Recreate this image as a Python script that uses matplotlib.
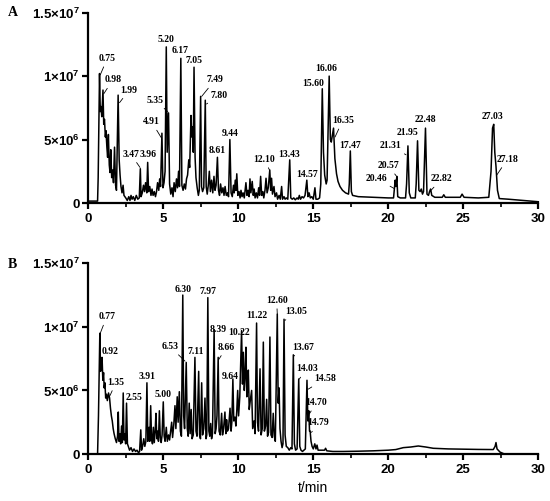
import matplotlib
matplotlib.use("Agg")
import matplotlib.pyplot as plt
from matplotlib.ticker import FixedLocator, MultipleLocator, FuncFormatter

# === Trace A (t in min, signal in 1e6 counts) ===
ta = [0, 0.62, 0.66, 0.75, 0.80, 0.85, 0.90, 0.98, 1.03, 1.08, 1.14, 1.18, 1.24, 1.29, 1.34, 1.40,
      1.45, 1.50, 1.56, 1.62, 1.68, 1.75, 1.82, 1.88, 1.99, 2.06, 2.12, 2.18, 2.25, 2.32, 2.38, 2.50,
      2.60, 2.70, 2.78, 2.85, 2.92, 3.00, 3.10, 3.20, 3.30, 3.40, 3.47, 3.52, 3.60, 3.68, 3.75, 3.82,
      3.90, 3.96, 4.02, 4.10, 4.18, 4.25, 4.32, 4.40, 4.48, 4.55, 4.62, 4.70, 4.76, 4.82, 4.91, 4.98,
      5.05, 5.12, 5.20, 5.26, 5.35, 5.42, 5.50, 5.58, 5.65, 5.72, 5.80, 5.88, 5.95, 6.02, 6.08, 6.17,
      6.24, 6.32, 6.40, 6.48, 6.55, 6.62, 6.70, 6.76, 6.85, 6.90, 6.95, 7.00, 7.05, 7.12, 7.18, 7.26,
      7.34, 7.40, 7.49, 7.55, 7.62, 7.70, 7.80, 7.86, 7.93, 8.00, 8.07, 8.14, 8.22, 8.30, 8.38, 8.45,
      8.52, 8.61, 8.68, 8.75, 8.82, 8.90, 8.98, 9.05, 9.12, 9.20, 9.28, 9.35, 9.44, 9.52, 9.60, 9.68,
      9.73, 9.80, 9.85, 9.90, 9.97, 10.05, 10.12, 10.18, 10.25, 10.32, 10.40, 10.51, 10.58, 10.65,
      10.72, 10.78, 10.84, 10.93, 11.00, 11.06, 11.12, 11.20, 11.28, 11.36, 11.42, 11.49, 11.56,
      11.64, 11.70, 11.78, 11.85, 11.92, 12.00, 12.10, 12.16, 12.22, 12.28, 12.38, 12.45, 12.55,
      12.62, 12.72, 12.80, 12.89, 12.95, 13.05, 13.12, 13.20, 13.30, 13.43, 13.50, 13.60, 13.70,
      13.80, 13.92, 14.00, 14.07, 14.15, 14.25, 14.35, 14.45, 14.57, 14.64, 14.72, 14.80, 14.90,
      15.00, 15.11, 15.18, 15.30, 15.42, 15.50, 15.60, 15.68, 15.76, 15.86, 15.92, 16.06, 16.14,
      16.20, 16.35, 16.44, 16.55, 16.65, 16.78, 16.95, 17.15, 17.35, 17.40, 17.47, 17.54, 17.62,
      18.0, 19.0, 20.0, 20.35, 20.40, 20.46, 20.51, 20.57, 20.63, 20.8, 21.15, 21.22, 21.31, 21.40,
      21.50, 21.80, 21.86, 21.95, 22.04, 22.12, 22.20, 22.28, 22.35, 22.48, 22.58, 22.68, 22.75,
      22.82, 22.90, 23.1, 23.6, 23.7, 23.8, 24.8, 24.92, 25.05, 26.0, 26.7, 26.85, 26.95, 27.03,
      27.10, 27.18, 27.28, 27.40, 28.0, 29.0, 30.0]
ya = [0.15, 0.15, 2.0, 10.2, 7.2, 7.6, 6.8, 8.9, 6.2, 6.6, 5.2, 5.7, 4.4, 3.6, 5.4, 3.0,
      2.4, 4.2, 2.0, 2.6, 1.6, 4.4, 1.4, 1.0, 8.5, 3.4, 2.2, 1.3, 0.8, 1.4, 0.6, 0.4,
      0.2, 0.5, 0.2, 0.6, 0.3, 0.5, 0.2, 0.6, 0.3, 0.4, 2.7, 0.5, 0.8, 1.4, 0.9, 1.6,
      0.8, 3.2, 0.9, 1.3, 0.6, 1.1, 0.6, 0.9, 0.5, 0.9, 1.6, 1.0, 1.9, 1.3, 5.5, 1.2,
      1.6, 2.5, 12.3, 4.0, 7.1, 1.5, 0.7, 1.2, 0.5, 1.6, 0.9, 1.9, 1.2, 2.5, 1.3, 11.4,
      1.4, 1.0, 1.5, 1.1, 1.9, 2.2, 3.4, 2.8, 6.9, 5.2, 6.0, 4.0, 10.7, 3.6, 2.0, 1.2,
      0.6, 1.0, 8.4, 1.3, 0.9, 1.2, 8.1, 1.3, 0.7, 1.4, 2.5, 0.9, 1.8, 0.8, 2.1, 1.0,
      1.4, 3.6, 1.0, 0.6, 1.5, 0.8, 1.2, 0.6, 1.3, 0.6, 0.8, 0.5, 5.0, 0.8, 0.5, 1.4,
      0.8, 1.8, 1.0, 2.3, 0.6, 0.9, 0.4, 1.0, 0.5, 0.8, 0.4, 1.6, 0.6, 1.0,
      0.5, 1.9, 0.8, 1.7, 0.6, 1.1, 0.4, 0.8, 0.4, 1.2, 0.6, 2.1, 0.6,
      0.9, 0.4, 1.0, 1.95, 0.8, 1.2, 2.6, 1.0, 1.95, 0.7, 1.3, 0.5, 0.8,
      0.3, 0.6, 0.3, 1.3, 0.3, 0.5, 0.3, 0.4, 0.3, 3.4, 0.4, 0.3, 0.4,
      0.25, 0.4, 0.3, 0.6, 0.3, 0.5, 0.4, 0.6, 1.8, 0.5, 0.8, 0.4, 0.5,
      0.3, 1.2, 0.3, 0.3, 0.4, 1.5, 9.0, 4.0, 2.2, 1.5, 1.8, 10.0, 5.0,
      4.8, 5.9, 3.5, 2.3, 1.7, 1.3, 1.0, 0.8, 0.7, 1.5, 4.1, 0.9, 0.6,
      0.5, 0.45, 0.4, 0.4, 1.0, 1.8, 1.3, 2.1, 0.5, 0.4, 0.4, 1.5, 4.5, 0.8,
      0.4, 0.4, 1.5, 4.9, 1.0, 0.9, 1.1, 0.7, 0.9, 5.9, 0.7, 0.6, 0.9,
      1.1, 0.6, 0.45, 0.45, 0.65, 0.45, 0.45, 0.7, 0.45, 0.4, 0.45, 2.5, 5.9, 6.2,
      4.0, 2.9, 1.0, 0.35, 0.3, 0.2, 0.1]

# === Trace B ===
tb = [0, 0.62, 0.68, 0.77, 0.82, 0.86, 0.92, 0.97, 1.02, 1.06, 1.11, 1.16, 1.21, 1.27, 1.35, 1.42,
      1.48, 1.54, 1.60, 1.66, 1.72, 1.80, 1.88, 1.95, 2.00, 2.05, 2.11, 2.16, 2.22, 2.27, 2.33, 2.38,
      2.44, 2.49, 2.55, 2.61, 2.67, 2.75, 2.85, 2.95, 3.05, 3.15, 3.25, 3.35, 3.42, 3.50, 3.55, 3.62,
      3.70, 3.77, 3.84, 3.91, 3.97, 4.05, 4.10, 4.16, 4.22, 4.28, 4.34, 4.40, 4.46, 4.51, 4.57, 4.62,
      4.68, 4.74, 4.80, 4.86, 4.92, 5.00, 5.06, 5.12, 5.20, 5.27, 5.35, 5.42, 5.50, 5.56, 5.62, 5.70,
      5.78, 5.84, 5.93, 5.99, 6.07, 6.14, 6.21, 6.30, 6.36, 6.42, 6.53, 6.60, 6.66, 6.73, 6.79, 6.86,
      6.92, 7.00, 7.11, 7.18, 7.25, 7.36, 7.42, 7.48, 7.56, 7.62, 7.70, 7.78, 7.85, 7.90, 7.97, 8.04,
      8.10, 8.16, 8.22, 8.28, 8.39, 8.46, 8.52, 8.58, 8.66, 8.72, 8.80, 8.89, 8.95, 9.02, 9.11, 9.17,
      9.22, 9.28, 9.35, 9.45, 9.52, 9.57, 9.64, 9.70, 9.78, 9.84, 9.90, 9.96, 10.02, 10.10, 10.22,
      10.28, 10.34, 10.40, 10.45, 10.51, 10.57, 10.62, 10.67, 10.73, 10.80, 10.89, 10.96, 11.05,
      11.12, 11.22, 11.28, 11.35, 11.45, 11.52, 11.60, 11.67, 11.74, 11.82, 11.89, 11.95, 12.02,
      12.11, 12.18, 12.26, 12.33, 12.40, 12.47, 12.60, 12.66, 12.72, 12.78, 12.85, 12.92, 12.98,
      13.05, 13.12, 13.20, 13.30, 13.40, 13.50, 13.58, 13.67, 13.74, 13.82, 13.92, 14.03, 14.10,
      14.18, 14.28, 14.38, 14.47, 14.58, 14.64, 14.70, 14.75, 14.79, 14.85, 14.92, 15.00, 15.10,
      15.18, 15.25, 15.32, 15.50, 15.75, 15.82, 15.90, 16.3, 17.0, 18.0, 19.0, 20.0, 20.5, 21.0,
      21.5, 22.0, 22.5, 23.0, 24.0, 25.0, 26.0, 27.0, 27.12, 27.18, 27.25, 27.45, 27.7, 28.0, 30.0]
yb = [0, 0, 3.0, 9.5, 6.5, 7.0, 7.6, 5.8, 6.4, 5.2, 5.6, 4.4, 4.7, 4.2, 4.8, 4.4,
      3.6, 3.0, 2.6, 2.0, 1.6, 1.2, 0.9, 1.4, 3.3, 1.0, 1.6, 0.8, 2.2, 0.9, 4.8, 1.1,
      1.6, 0.8, 4.0, 0.8, 0.6, 0.3, 0.5, 0.2, 0.4, 0.2, 0.3, 0.1, 0.2, 1.9, 0.3, 0.6,
      1.2, 0.6, 1.0, 5.6, 1.0, 2.1, 1.0, 3.8, 1.2, 0.8, 2.1, 0.9, 1.8, 3.2, 1.2, 1.8,
      1.0, 3.4, 1.3, 0.9, 1.5, 4.1, 1.4, 1.0, 2.1, 1.0, 1.5, 1.1, 1.9, 2.5, 1.3, 2.3,
      3.8, 2.0, 4.5, 2.5, 4.9, 1.8, 1.4, 12.5, 3.0, 2.0, 7.2, 2.0, 1.4, 4.0, 1.6, 3.5,
      1.2, 1.5, 7.6, 1.8, 1.4, 6.5, 1.5, 1.2, 5.6, 1.5, 2.0, 4.4, 1.2, 1.5, 12.3, 1.8,
      1.4, 2.4, 1.2, 1.6, 9.8, 1.6, 2.0, 3.0, 7.6, 1.8, 1.5, 3.2, 1.5, 2.0, 3.3, 1.6,
      2.7, 1.8, 2.0, 3.6, 1.8, 2.5, 5.9, 2.6, 2.9, 2.2, 3.4, 5.0, 3.0, 4.5, 9.7,
      5.5, 8.0, 5.0, 6.0, 8.4, 4.5, 5.0, 6.6, 3.5, 4.2, 5.0, 2.0, 2.6,
      1.6, 10.3, 2.5, 1.8, 6.7, 1.5, 2.0, 8.8, 1.8, 2.2, 4.3, 1.4, 1.7,
      9.2, 1.5, 1.3, 3.2, 1.4, 1.0, 11.0, 4.0, 5.2, 2.0, 1.0, 0.5, 0.8,
      10.6, 1.5, 0.6, 0.5, 0.3, 0.5, 0.4, 7.8, 0.8, 0.3, 0.4, 5.9, 0.6,
      0.3, 0.2, 0.3, 0.4, 5.8, 2.6, 3.4, 1.8, 1.8, 1.0, 0.6, 0.4, 0.8,
      0.4, 0.7, 0.3, 0.3, 0.3, 0.45, 0.25, 0.2, 0.2, 0.22, 0.25, 0.3, 0.35, 0.5,
      0.55, 0.63, 0.55, 0.45, 0.4, 0.38, 0.36, 0.35, 0.6, 0.9, 0.4, 0.15, 0.02, 0.0, 0.0]

# === Peak labels: text, label position (t, signal), leader end or None ===
labels_a = [
    ("0.75", 1.27, 11.4, (0.80, 10.1)), ("0.98", 1.63, 9.7, (1.03, 8.6)),
    ("1.99", 2.73, 8.9, (2.08, 7.9)), ("3.47", 2.83, 3.85, (3.45, 2.8)),
    ("3.96", 4.00, 3.8, None), ("4.91", 4.22, 6.4, (4.89, 5.1)),
    ("5.35", 4.45, 8.1, (5.30, 7.2)), ("5.20", 5.16, 12.9, None),
    ("6.17", 6.11, 12.0, None), ("7.05", 7.05, 11.2, None),
    ("7.49", 8.45, 9.7, (7.56, 8.4)), ("7.80", 8.73, 8.5, (7.88, 7.8)),
    ("8.61", 8.60, 4.1, None), ("9.44", 9.45, 5.5, None),
    ("12.10", 11.73, 3.45, (12.08, 2.6)), ("13.43", 13.40, 3.85, None),
    ("14.57", 14.56, 2.25, None), ("15.60", 15.0, 9.4, None),
    ("16.06", 15.85, 10.6, None), ("16.35", 16.96, 6.5, (16.45, 5.2)),
    ("17.47", 17.45, 4.5, None), ("20.46", 19.18, 1.95, (20.38, 1.15)),
    ("20.57", 20.0, 2.95, (20.52, 2.15)), ("21.31", 20.16, 4.5, (21.18, 3.8)),
    ("21.95", 21.29, 5.55, None), ("22.48", 22.45, 6.6, None),
    ("22.82", 23.56, 1.9, (22.85, 1.0)), ("27.03", 26.96, 6.8, None),
    ("27.18", 27.94, 3.45, (27.23, 2.2)),
]
labels_b = [
    ("0.77", 1.23, 10.8, (0.80, 9.5)), ("0.92", 1.45, 8.1, None),
    ("1.35", 1.85, 5.65, (1.45, 4.6)), ("2.55", 3.05, 4.45, None),
    ("3.91", 3.93, 6.1, None), ("5.00", 5.0, 4.7, None),
    ("6.53", 5.45, 8.45, (6.45, 7.3)), ("6.30", 6.29, 12.95, None),
    ("7.11", 7.18, 8.1, None), ("7.97", 8.0, 12.75, None),
    ("8.39", 8.63, 9.8, None), ("8.66", 9.22, 8.4, (8.68, 7.4)),
    ("9.64", 9.49, 6.1, None), ("10.22", 10.07, 9.55, None),
    ("11.22", 11.22, 10.9, None), ("12.60", 12.56, 12.1, (12.60, 11.0)),
    ("13.05", 13.89, 11.2, (13.10, 10.5)), ("13.67", 14.33, 8.4, (13.71, 7.7)),
    ("14.03", 14.56, 6.7, (14.07, 5.9)), ("14.58", 15.78, 5.9, (14.66, 5.1)),
    ("14.70", 15.22, 4.05, (14.76, 3.2)), ("14.79", 15.33, 2.45, (14.88, 1.7)),
]

yticks = [0, 5e6, 1e7, 1.5e7]
ytick_text = ["0", "5×10$^{6}$", "1×10$^{7}$", "1.5×10$^{7}$"]

plt.rcParams["font.family"] = "Liberation Sans"
plt.rcParams["font.weight"] = "bold"
plt.rcParams["mathtext.fontset"] = "custom"
plt.rcParams["mathtext.rm"] = "Liberation Sans:bold"
plt.rcParams["mathtext.it"] = "Liberation Sans:bold"
plt.rcParams["mathtext.bf"] = "Liberation Sans:bold"

fig = plt.figure(figsize=(5.5, 5.01), dpi=100)
ax_a = fig.add_axes([0.1605, 0.5948, 0.8182, 0.3800])
ax_b = fig.add_axes([0.1605, 0.0938, 0.8182, 0.3807])


def style_axis(ax):
    ax.set_xlim(0, 30)
    ax.set_ylim(0, 1.5e7)
    for s in ["top", "right"]:
        ax.spines[s].set_visible(False)
    for s in ["left", "bottom"]:
        ax.spines[s].set_linewidth(1.6)
    ax.xaxis.set_major_locator(MultipleLocator(5))
    ax.xaxis.set_minor_locator(MultipleLocator(2.5))
    ax.yaxis.set_major_locator(FixedLocator(yticks))
    ax.yaxis.set_major_formatter(FuncFormatter(lambda v, p: ytick_text[yticks.index(v)] if v in yticks else ""))
    ax.tick_params(axis="both", which="major", length=4, width=1.6, labelsize=9.5, pad=2)
    ax.tick_params(axis="x", which="major", pad=3)
    ax.tick_params(axis="x", which="minor", length=3, width=1.2)
    for lab in ax.get_xticklabels() + ax.get_yticklabels():
        lab.set_fontweight("bold")


def draw_labels(ax, labels):
    for text, lx, ly, end in labels:
        if end is None:
            ax.text(lx, ly * 1e6, text, ha="center", va="center", fontsize=7,
                    family="Liberation Serif", fontweight="bold")
        else:
            ax.annotate(text, xy=(end[0], end[1] * 1e6), xytext=(lx, ly * 1e6),
                        ha="center", va="center", fontsize=7,
                        family="Liberation Serif", fontweight="bold",
                        arrowprops=dict(arrowstyle="-", lw=0.6, color="black", shrinkA=1, shrinkB=0))


ax_a.plot(ta, [v * 1e6 for v in ya], color="black", lw=1.1, clip_on=False)
ax_b.plot(tb, [v * 1e6 for v in yb], color="black", lw=1.1, clip_on=False)
style_axis(ax_a)
style_axis(ax_b)
draw_labels(ax_a, labels_a)
draw_labels(ax_b, labels_b)

ax_b.set_xlabel("t/min", fontsize=10, fontweight="normal", labelpad=4)

fig.text(0.015, 0.975, "A", fontsize=10, family="Liberation Serif", fontweight="bold", va="center")
fig.text(0.015, 0.472, "B", fontsize=10, family="Liberation Serif", fontweight="bold", va="center")

fig.savefig("out.png", dpi=100)
